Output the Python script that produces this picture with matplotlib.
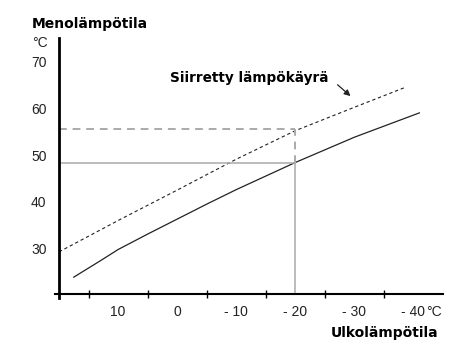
import matplotlib
matplotlib.use('Agg')
import matplotlib.pyplot as plt

# ulkolämpötila (°C) ja menolämpötila (°C)
curve_t = [17.5, 13, 10, 5, 0, -5, -10, -20, -30, -41]
curve_v = [23.9, 27.4, 29.8, 33.1, 36.3, 39.5, 42.6, 48.4, 53.8, 59.0]
shifted_t = [20, 10, 0, -10, -20, -30, -38.5]
shifted_v = [29.3, 36.0, 42.5, 49.1, 55.2, 60.2, 64.4]

ref_t = -20
ref_v = 48.3
ref_shifted_v = 55.5

xlabel_pos = [10, 0, -10, -20, -30, -40]
xlabel_txt = ['10', '0', '- 10', '- 20', '- 30', '- 40']
xtick_pos = [15, 5, -5, -15, -25, -35]
ytick_pos = [30, 40, 50, 60, 70]

W, H = 454, 364
fig = plt.figure(figsize=(W / 100, H / 100), dpi=100)
ax = fig.add_axes([59 / W, (H - 294) / H, (443 - 59) / W, (294 - 38) / H])

ax.plot(curve_t, curve_v, color='#222222', lw=0.9)
ax.plot(shifted_t, shifted_v, color='#222222', lw=0.8, dashes=(3, 2.5))

gray = '#aaaaaa'
ax.plot([20, ref_t], [ref_v, ref_v], color=gray, lw=1.1)
ax.plot([ref_t, ref_t], [20.3, ref_v], color=gray, lw=1.1)
ax.plot([20, ref_t], [ref_shifted_v, ref_shifted_v], color=gray, lw=1.4, dashes=(4, 3))
ax.plot([ref_t, ref_t], [ref_v, ref_shifted_v], color=gray, lw=1.4, dashes=(4, 3))

ax.set_xlim(20, -45)
ax.set_ylim(20.3, 75)

for s in ['top', 'right']:
    ax.spines[s].set_visible(False)
ax.spines['left'].set_linewidth(2)
ax.spines['left'].set_bounds(19.4, 75)
ax.spines['bottom'].set_linewidth(1.5)
ax.spines['bottom'].set_bounds(20.7, -45)

ax.set_xticks(xtick_pos)
ax.set_xticklabels([])
ax.set_xticks(xlabel_pos, minor=True)
ax.set_xticklabels(xlabel_txt, minor=True, fontsize=10, color='#222222',
                   family='Liberation Sans')
ax.tick_params(axis='x', which='major', direction='inout', length=6, width=1)
ax.tick_params(axis='x', which='minor', length=0, pad=8)
ax.set_yticks(ytick_pos)
ax.set_yticklabels([str(v) for v in ytick_pos], fontsize=10, color='#222222',
                   family='Liberation Sans')
ax.tick_params(axis='y', length=0, pad=9)

ax.text(1.2, 66.5, 'Siirretty lämpökäyrä', fontsize=9.8, fontweight='bold',
        va='center', ha='left')
ax.annotate('', xy=(-29.7, 62.2), xytext=(-26.8, 65.4),
            arrowprops=dict(arrowstyle='-|>', color='#222222', lw=0.9,
                            mutation_scale=9))

fig.text(32 / W, 1 - 24 / H, 'Menolämpötila', fontsize=10, fontweight='bold',
         va='center', ha='left')
fig.text(48 / W, 1 - 43 / H, '°C', fontsize=10, color='#222222',
         family='Liberation Sans', va='center', ha='right')
fig.text(426 / W, 1 - 312 / H, '°C', fontsize=10, color='#222222',
         family='Liberation Sans', va='center', ha='left')
fig.text(438 / W, 1 - 333 / H, 'Ulkolämpötila', fontsize=10, fontweight='bold',
         va='center', ha='right')

fig.savefig('out.png', dpi=100)
